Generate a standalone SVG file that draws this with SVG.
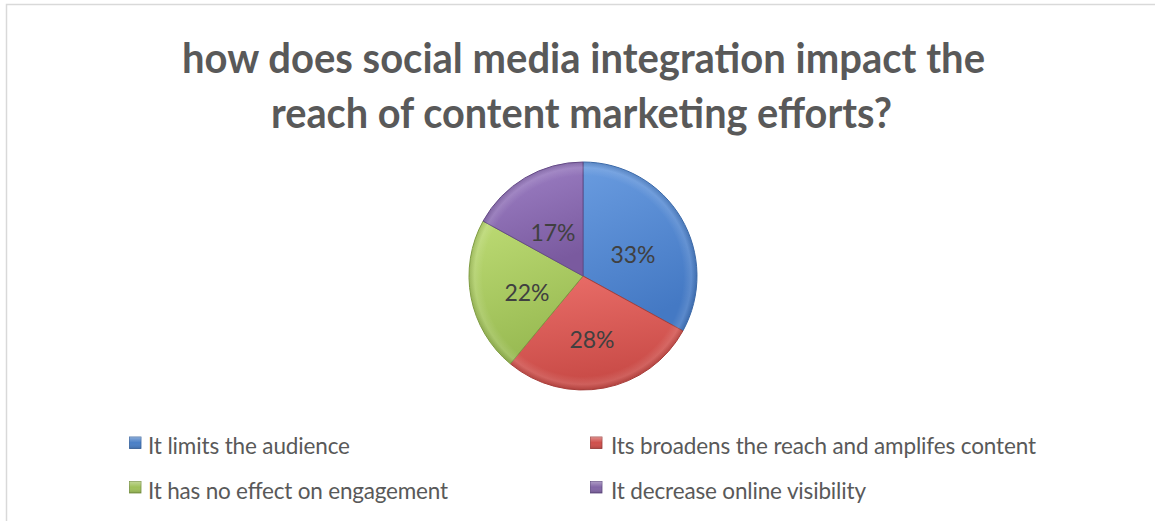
<svg xmlns="http://www.w3.org/2000/svg" width="1155" height="521" viewBox="0 0 1155 521">
  <style>
    .title { font-family: "Lato", "Liberation Sans", sans-serif; font-weight: 700; font-size: 42px; fill: #595959; }
    .pct { font-family: "Lato", "Liberation Sans", sans-serif; font-size: 23px; fill: #404040; text-anchor: middle; }
    .leg { font-family: "Lato", "Liberation Sans", sans-serif; font-size: 22.5px; fill: #595959; }
    .edge { stroke-width: 1; stroke-linejoin: round; }
  </style>
  <defs>
    <linearGradient id="gBlue" x1="0" y1="0" x2="0.3" y2="1">
      <stop offset="0" stop-color="#6a9ce0"/>
      <stop offset="1" stop-color="#4479c4"/>
    </linearGradient>
    <linearGradient id="gRed" x1="0" y1="0" x2="0.2" y2="1">
      <stop offset="0" stop-color="#ea6e69"/>
      <stop offset="1" stop-color="#c84a46"/>
    </linearGradient>
    <linearGradient id="gGreen" x1="0" y1="0" x2="0.3" y2="1">
      <stop offset="0" stop-color="#bddb74"/>
      <stop offset="1" stop-color="#98ba52"/>
    </linearGradient>
    <linearGradient id="gPurple" x1="0" y1="0" x2="0.3" y2="1">
      <stop offset="0" stop-color="#a083c8"/>
      <stop offset="1" stop-color="#7a5a9f"/>
    </linearGradient>
    <radialGradient id="bevel" cx="583" cy="276" r="114" gradientUnits="userSpaceOnUse">
      <stop offset="0" stop-color="#ffffff" stop-opacity="0"/>
      <stop offset="0.88" stop-color="#ffffff" stop-opacity="0"/>
      <stop offset="0.95" stop-color="#ffffff" stop-opacity="0.12"/>
      <stop offset="1" stop-color="#000000" stop-opacity="0.12"/>
    </radialGradient>
    <linearGradient id="sq" x1="0" y1="0" x2="0" y2="1">
      <stop offset="0" stop-color="#ffffff" stop-opacity="0.35"/>
      <stop offset="0.5" stop-color="#ffffff" stop-opacity="0"/>
      <stop offset="1" stop-color="#000000" stop-opacity="0.15"/>
    </linearGradient>
  </defs>

  <rect x="0" y="0" width="1155" height="521" fill="#ffffff"/>
  <rect id="frame" x="6.5" y="4.5" width="1170" height="540" fill="#ffffff" stroke="#d9d9d9" stroke-width="1.5"/>

  <g id="title">
    <text class="title" x="182" y="73" textLength="803" lengthAdjust="spacingAndGlyphs">how does social media integration impact the</text>
    <text class="title" x="271" y="128" textLength="621" lengthAdjust="spacingAndGlyphs">reach of content marketing efforts?</text>
  </g>

  <g id="pie">
    <g id="slice-limits">
      <path class="edge" d="M583,276 L583,162 A114,114 0 0 1 682.9,330.9 Z" fill="url(#gBlue)" stroke="#3b68a6"/>
      <text class="pct" x="633" y="263">33%</text>
    </g>
    <g id="slice-broadens">
      <path class="edge" d="M583,276 L682.9,330.9 A114,114 0 0 1 510.3,363.8 Z" fill="url(#gRed)" stroke="#a63e3b"/>
      <text class="pct" x="592" y="348">28%</text>
    </g>
    <g id="slice-noeffect">
      <path class="edge" d="M583,276 L510.3,363.8 A114,114 0 0 1 483.1,221.1 Z" fill="url(#gGreen)" stroke="#7f9c43"/>
      <text class="pct" x="527" y="301">22%</text>
    </g>
    <g id="slice-decrease">
      <path class="edge" d="M583,276 L483.1,221.1 A114,114 0 0 1 583,162 Z" fill="url(#gPurple)" stroke="#654b86"/>
      <text class="pct" x="553" y="241">17%</text>
    </g>
    <circle cx="583" cy="276" r="113.5" fill="url(#bevel)" pointer-events="none"/>
  </g>

  <g id="legend">
    <g id="legend-limits">
      <rect x="129.5" y="437" width="11.5" height="11.5" fill="#4a7fc6" stroke="#34609c" stroke-width="0.8"/>
      <rect x="129.5" y="437" width="11.5" height="11.5" fill="url(#sq)"/>
      <text class="leg" x="148" y="454" textLength="202">It limits the audience</text>
    </g>
    <g id="legend-broadens">
      <rect x="590.5" y="437" width="11.5" height="11.5" fill="#cf4f4b" stroke="#9c3a37" stroke-width="0.8"/>
      <rect x="590.5" y="437" width="11.5" height="11.5" fill="url(#sq)"/>
      <text class="leg" x="611" y="454" textLength="425">Its broadens the reach and amplifes content</text>
    </g>
    <g id="legend-noeffect">
      <rect x="129.5" y="481.5" width="11.5" height="11.5" fill="#9fc05a" stroke="#76913f" stroke-width="0.8"/>
      <rect x="129.5" y="481.5" width="11.5" height="11.5" fill="url(#sq)"/>
      <text class="leg" x="148" y="498.5" textLength="300">It has no effect on engagement</text>
    </g>
    <g id="legend-decrease">
      <rect x="590.5" y="481.5" width="11.5" height="11.5" fill="#8266a6" stroke="#5e4880" stroke-width="0.8"/>
      <rect x="590.5" y="481.5" width="11.5" height="11.5" fill="url(#sq)"/>
      <text class="leg" x="611" y="498.5" textLength="255">It decrease online visibility</text>
    </g>
  </g>
</svg>
